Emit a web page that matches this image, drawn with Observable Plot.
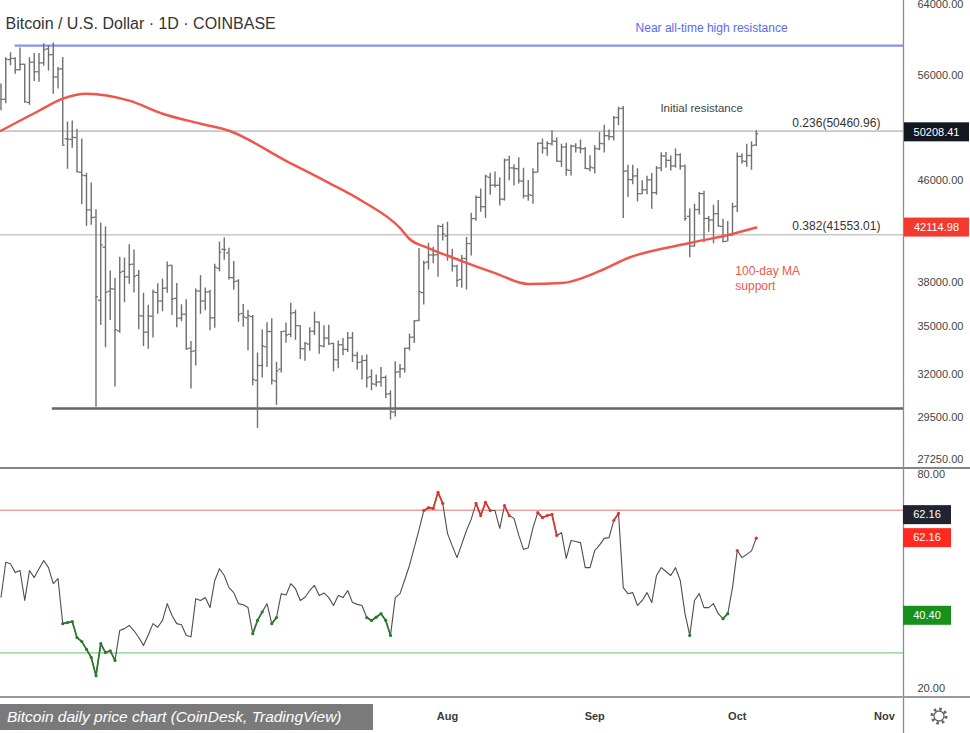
<!DOCTYPE html>
<html><head><meta charset="utf-8">
<script src="https://cdn.jsdelivr.net/npm/d3@7"></script>
<script src="https://cdn.jsdelivr.net/npm/@observablehq/plot@0.6"></script>
<style>
body{margin:0;background:#fff;}
#chart{position:relative;width:970px;height:733px;overflow:hidden;font-family:"Liberation Sans",Arial,sans-serif;background:#fff;}
#chart svg{display:block;}
#caption{position:absolute;left:0;top:704px;width:366px;height:26px;padding-left:7px;background:#7a7a7a;color:#fff;font-style:italic;font-size:15.5px;line-height:26px;white-space:nowrap;}
</style></head><body>
<div id="chart"><div id="caption">Bitcoin daily price chart (CoinDesk, TradingView)</div></div>
<script>
// ---------- DATA ----------
const firstDay = "2021-04-29"; // one bar per day from here
const open = [54860,53570,57710,57830,56620,57210,53250,57440,56410,57350,58880,58250,55850,56710,49740,49680,49860,46720,46420,43540,42940,36750,40600,37370,37530,34700,38800,38390,39320,38510,35680,34610,35660,37290,36700,37600,39240,36880,35540,35800,33590,33420,37390,36700,37340,35560,39020,40430,40170,38340,38100,35850,35560,35640,31620,32520,33680,34660,31580,32290,34680,34480,35910,35040,33550,33850,34670,35280,33720,34230,33890,32860,33810,33510,34250,33130,32720,32830,31840,31400,31530,31800,30840,29800,32140,32310,33590,34290,35380,37280,39480,40010,40020,42200,41460,39910,39180,38210,39740,40870,42830,44570,43790,46280,45600,45590,44420,47820,47100,47020,45940,44690,44740,46720,49330,48870,49280,49500,47680,48990,46890,49070,48910,48830,47030,47100,48810,49290,50030,49930,51770,52660,46830,46070,46400,44870,45210,46060,44960,47100,48160,47770,47270,48280,47260,43010,40680,43560,44880,42840,42720,43230,42200,41040,41520,43820,48140,47680,48210,49170];
const high = [55120,57900,58450,57900,58970,57210,57910,58360,58360,59460,59210,59520,56870,57940,51330,51440,50640,49720,46620,45790,43550,42460,42170,38830,38290,39840,39780,40780,40380,38860,37230,36400,37470,37900,38230,39480,39240,37920,36440,36790,34020,37530,38490,37610,37440,39320,40980,41300,40520,39510,38190,36460,36060,35720,33290,34750,35230,35490,32710,34660,35220,36540,36070,35040,33940,34910,35940,35280,35040,35060,33910,34040,34210,34590,34590,33340,33110,33160,32250,31940,32400,31890,31010,32750,32580,33580,34490,35360,40500,39540,40890,40590,42240,42370,42540,40420,39240,39970,41340,43270,44690,45280,46460,46640,46740,46220,47890,48140,47370,48000,47070,46010,47030,49340,49720,49470,50480,49820,49240,49340,49150,49290,49630,48930,48190,49110,50340,51030,50560,51870,52780,52850,47330,47340,47030,45970,46360,46600,47220,48450,48490,48160,48810,48370,47350,43610,44000,44960,45080,43000,43920,44310,42780,42600,44090,48440,48340,49230,49460,50500];
const low = [52420,53130,57050,56140,56480,53190,52970,55380,55320,56980,56480,54070,54610,49150,46980,48870,46670,43960,42210,42290,30070,35050,33620,35380,31230,34550,36580,37870,37250,34780,33690,33520,34240,35790,35970,37240,35720,34900,35300,33480,31110,32480,35790,36040,34710,34870,38760,39610,38180,37440,35260,34930,33430,31300,28890,31770,32390,31350,30180,32070,33900,34250,34090,32880,32770,33400,34400,33210,33600,33770,32130,32320,33120,33320,32700,32240,31640,31180,31020,31220,31220,30560,29360,29530,31750,32060,33420,33880,35290,36420,38890,39360,38370,41060,39540,38750,37630,37590,37460,39930,42620,43350,42850,44740,45350,43850,44260,45970,45540,45700,44440,44240,44000,46650,48330,48150,49070,47610,47150,46370,46400,48430,48370,46950,46750,46560,48650,48430,49550,49540,50980,42840,44560,45640,44190,44820,44790,43590,44750,46770,47080,46830,47090,46890,42610,39790,40590,43110,40940,41750,40850,42190,40930,41010,41440,43320,47430,47150,46900,49020];
const close = [53560,57750,57830,56630,57200,53330,57420,56400,57360,58800,58230,55860,56700,49150,49720,49880,46760,46460,43540,42910,37000,40780,37300,37540,34770,38710,38400,39290,38440,35700,34620,35680,37330,36690,37580,39190,36830,35520,35800,33550,33380,37390,36700,37310,35550,39100,40220,40410,38350,38050,35790,35620,35700,31680,32510,33720,34660,31640,32190,34650,34430,35870,35040,33570,33900,34670,35290,33750,34240,33860,32880,33800,33520,34240,33160,32700,32820,31780,31420,31520,31780,30820,29810,32110,32310,33580,34290,35350,37340,39410,40000,40010,42240,41630,39980,39200,38150,39750,40870,42820,44560,43800,46370,45590,45590,44430,47790,47100,47050,46010,44700,44800,46720,49340,48910,49320,49550,47710,48960,46940,49060,48900,48830,47050,47170,48850,49330,50030,49940,51750,52630,46810,46090,46390,44880,45200,46060,44960,47090,48180,47780,47270,48280,47260,42840,40690,43570,44900,42840,42720,43210,42240,41030,41560,43790,48120,47710,48200,49110,50208.41];

// 100-day moving average
const maDates = ["2021-04-29","2021-05-07","2021-05-12","2021-05-17","2021-05-26","2021-06-02","2021-06-10","2021-06-16","2021-06-28","2021-07-07","2021-07-14","2021-07-22","2021-07-24","2021-07-28","2021-08-04","2021-08-11","2021-08-18","2021-08-25","2021-09-02","2021-09-08","2021-09-21","2021-09-30","2021-10-05"];
const maValues = [50500,52430,53630,54130,53430,52140,51170,50500,47730,45800,44270,42080,41220,40530,39550,38670,37880,37950,38810,39780,40910,41610,42115];

// RSI, one value per day
const rsiValues = [45.6,55.4,55.0,52.5,53.1,44.7,53.1,51.1,53.6,55.9,53.9,49.4,50.8,38.2,38.5,38.8,34.3,33.2,31.0,28.7,23.6,32.6,30.1,30.6,27.9,36.3,36.8,37.7,36.2,34.3,32.1,35.0,38.2,37.2,39.1,43.8,40.5,38.2,37.9,34.9,34.5,45.2,44.7,45.5,42.7,50.3,53.6,51.7,48.3,46.9,43.8,43.5,42.7,35.4,39.1,41.5,43.8,38.2,39.9,46.6,46.2,49.4,48.0,44.7,45.6,47.5,48.9,46.1,46.8,45.5,43.3,46.1,45.5,47.5,44.1,43.6,43.3,39.9,39.1,40.0,41.0,39.1,34.9,45.5,46.6,50.5,54.5,59.5,64.5,69.9,70.7,70.5,75.0,71.9,63.5,60.0,56.7,60.5,64.3,67.5,71.9,68.5,72.2,69.9,69.9,64.9,71.3,68.5,67.7,63.0,59.0,59.5,65.1,69.3,67.9,68.5,68.8,62.9,63.7,56.5,61.5,61.2,60.9,53.9,53.9,58.7,60.2,62.1,62.3,67.1,69.1,48.3,46.6,46.9,43.3,44.7,46.9,44.1,51.7,53.9,52.8,51.7,53.9,50.3,41.0,34.9,44.7,46.6,42.7,42.7,43.8,41.0,39.6,41.0,48.3,58.7,56.7,57.6,58.6,62.16];
const rsiGreenDays = [13,14,15,16,17,18,19,20,21,22,23,24,53,54,55,57,58,77,78,79,80,81,82,145,152,153];
const rsiRedDays = [89,90,91,92,93,100,101,102,103,106,107,113,114,115,116,117,129,130,155,159];

const priceTicks = [27250,29500,32000,35000,38000,46000,56000,64000];
const rsiTicks = [20,80];
const monthTicks = ["2021-08-01","2021-09-01","2021-10-01","2021-11-01"];

const athLevel = 59250, supportLevel = 30000;
const fib236 = 50460.96, fib382 = 41553.01;
const lastPrice = 50208.41, maLast = 42114.98;
const rsiLast = 62.16, rsiLow = 40.40, rsiUpper = 70, rsiLower = 30;

// ---------- BUILD ----------
const DAY = 864e5;
const t0 = new Date(firstDay);
const dayAt = i => new Date(+t0 + i * DAY);
const bars = close.map((c, i) => ({date: dayAt(i), open: open[i], high: high[i], low: low[i], close: c}));
const ma = maDates.map((d, i) => ({date: new Date(d), value: maValues[i]}));
const rsi = rsiValues.map((v, i) => ({date: dayAt(i), value: v}));
const flag = rsi.map((_, i) => rsiGreenDays.includes(i) ? "g" : rsiRedDays.includes(i) ? "r" : "");
const segs = [];
for (let i = 1; i < rsi.length; i++) if (flag[i] && flag[i] === flag[i-1]) segs.push({a: rsi[i-1], b: rsi[i], c: flag[i]});
const flagged = rsi.map((d, i) => ({...d, c: flag[i]})).filter(d => d.c);
const colOf = c => c === "r" ? "#d8362c" : "#2a7a2e";

const xDomain = [dayAt(-0.105), dayAt(190)];
const font = '"Liberation Sans", Arial, sans-serif';
const fmt2 = d3.format(".2f");
const barColor = "#6f6f6f";

const p1 = Plot.plot({
  width: 970, height: 469, marginLeft: 0, marginRight: 67, marginTop: 0, marginBottom: 0,
  style: {fontFamily: font, fontSize: "11px", color: "#444", background: "transparent"},
  x: {type: "utc", domain: xDomain, axis: null},
  y: {type: "log", domain: [26756, 64470], axis: "right", ticks: priceTicks, tickFormat: fmt2, tickSize: 0, tickPadding: 14, label: null},
  marks: [
    Plot.ruleY([fib236, fib382], {stroke: "#c8c8c8", strokeWidth: 1.6}),
    Plot.ruleY([athLevel], {x1: dayAt(3), x2: xDomain[1], stroke: "#8a92ef", strokeWidth: 2.2}),
    Plot.ruleY([supportLevel], {x1: dayAt(10.8), x2: xDomain[1], stroke: "#666", strokeWidth: 2.6}),
    Plot.ruleX(bars, {x: "date", y1: "low", y2: "high", stroke: barColor, strokeWidth: 1.4}),
    Plot.ruleY(bars, {x1: d => new Date(+d.date - 0.5 * DAY), x2: "date", y: "open", stroke: barColor, strokeWidth: 1.3}),
    Plot.ruleY(bars, {x1: "date", x2: d => new Date(+d.date + 0.5 * DAY), y: "close", stroke: barColor, strokeWidth: 1.3}),
    Plot.line(ma, {x: "date", y: "value", stroke: "#f0564b", strokeWidth: 2.5, curve: "monotone-x"}),
    Plot.text(["Bitcoin / U.S. Dollar · 1D · COINBASE"], {frameAnchor: "top-left", dx: 5, dy: 17, textAnchor: "start", fontSize: 16, fill: "#333"}),
    Plot.text(["Near all-time high resistance"], {x: () => dayAt(149.6), y: () => 61170, textAnchor: "middle", fontSize: 12, fill: "#5b69f0"}),
    Plot.text(["Initial resistance"], {x: () => dayAt(147.5), y: () => 52630, textAnchor: "middle", fontSize: 11.5, fill: "#444"}),
    Plot.text(["0.236(50460.96)"], {x: () => dayAt(166.6), y: () => 51270, textAnchor: "start", fontSize: 12, fill: "#333"}),
    Plot.text(["0.382(41553.01)"], {x: () => dayAt(166.6), y: () => 42230, textAnchor: "start", fontSize: 12, fill: "#333"}),
    Plot.text(["100-day MA"], {x: () => dayAt(154.6), y: () => 38810, textAnchor: "start", fontSize: 12, fill: "#f0564b"}),
    Plot.text(["support"], {x: () => dayAt(154.6), y: () => 37700, textAnchor: "start", fontSize: 12, fill: "#f0564b"})
  ]
});

const p2 = Plot.plot({
  width: 970, height: 264, marginLeft: 0, marginRight: 67, marginTop: 0, marginBottom: 36,
  style: {fontFamily: font, fontSize: "11px", color: "#444", background: "transparent"},
  x: {type: "utc", domain: xDomain, ticks: monthTicks.map(d => new Date(d)), tickFormat: d3.utcFormat("%b"), tickSize: 0, tickPadding: 15, label: null},
  y: {domain: [17.5, 81.4], axis: "right", ticks: rsiTicks, tickFormat: fmt2, tickSize: 0, tickPadding: 14, label: null},
  marks: [
    Plot.ruleY([rsiUpper], {stroke: "#f2a0a0", strokeWidth: 1.6}),
    Plot.ruleY([rsiLower], {stroke: "#a6daa6", strokeWidth: 1.6}),
    Plot.line(rsi, {x: "date", y: "value", stroke: "#4e4e4e", strokeWidth: 1.1}),
    Plot.link(segs, {x1: d => d.a.date, y1: d => d.a.value, x2: d => d.b.date, y2: d => d.b.value, stroke: d => colOf(d.c), strokeWidth: 1.7}),
    Plot.dot(flagged, {x: "date", y: "value", r: 1.6, fill: d => colOf(d.c), stroke: null})
  ]
});

const chart = document.getElementById("chart");
chart.insertBefore(p2, chart.firstChild);
chart.insertBefore(p1, p2);

// month labels a little heavier, as in TradingView
d3.select(p2).selectAll("text").filter(function() { return /^(Aug|Sep|Oct|Nov)$/.test(this.textContent); })
  .attr("font-weight", "bold").attr("fill", "#3a3a3a");

// decorations: panel separators, axis line, value badges
function badge(svg, cy, x, w, fill, text) {
  const g = d3.select(svg).append("g");
  g.append("rect").attr("x", x).attr("y", cy - 9.5).attr("width", w).attr("height", 19).attr("fill", fill);
  g.append("text").attr("x", x + w / 2).attr("y", cy).attr("dy", "0.35em").attr("text-anchor", "middle")
    .attr("fill", "#fff").attr("font-size", 11).attr("font-family", font).text(text);
}
const s1 = d3.select(p1), s2 = d3.select(p2);
s1.append("line").attr("x1", 0).attr("x2", 970).attr("y1", 468).attr("y2", 468).attr("stroke", "#858585").attr("stroke-width", 2);
s1.append("line").attr("x1", 903.5).attr("x2", 903.5).attr("y1", 0).attr("y2", 469).attr("stroke", "#8c8c8c").attr("stroke-width", 1.3);
s2.append("line").attr("x1", 903.5).attr("x2", 903.5).attr("y1", 0).attr("y2", 264).attr("stroke", "#8c8c8c").attr("stroke-width", 1.3);
s2.append("line").attr("x1", 0).attr("x2", 970).attr("y1", 228).attr("y2", 228).attr("stroke", "#9a9a9a").attr("stroke-width", 2);

const y1 = p1.scale("y"), y2 = p2.scale("y");
badge(p1, y1.apply(lastPrice) - 1.5, 904, 65, "#131722", fmt2(lastPrice));
badge(p1, y1.apply(maLast), 904, 65, "#f4392d", fmt2(maLast));
badge(p2, y2.apply(rsiLast) - 23, 903, 48, "#1f2430", fmt2(rsiLast));
badge(p2, y2.apply(rsiLast), 903, 48, "#ff2a1f", fmt2(rsiLast));
badge(p2, y2.apply(rsiLow), 903, 48, "#17901c", fmt2(rsiLow));

// settings gear
const gear = s2.append("g").attr("transform", "translate(939,247)");
gear.append("circle").attr("r", 7).attr("fill", "none").attr("stroke", "#666").attr("stroke-width", 3).attr("stroke-dasharray", "2.5 3");
gear.append("circle").attr("r", 5).attr("fill", "#fff").attr("stroke", "#666").attr("stroke-width", 1.3);
</script>
</body></html>
